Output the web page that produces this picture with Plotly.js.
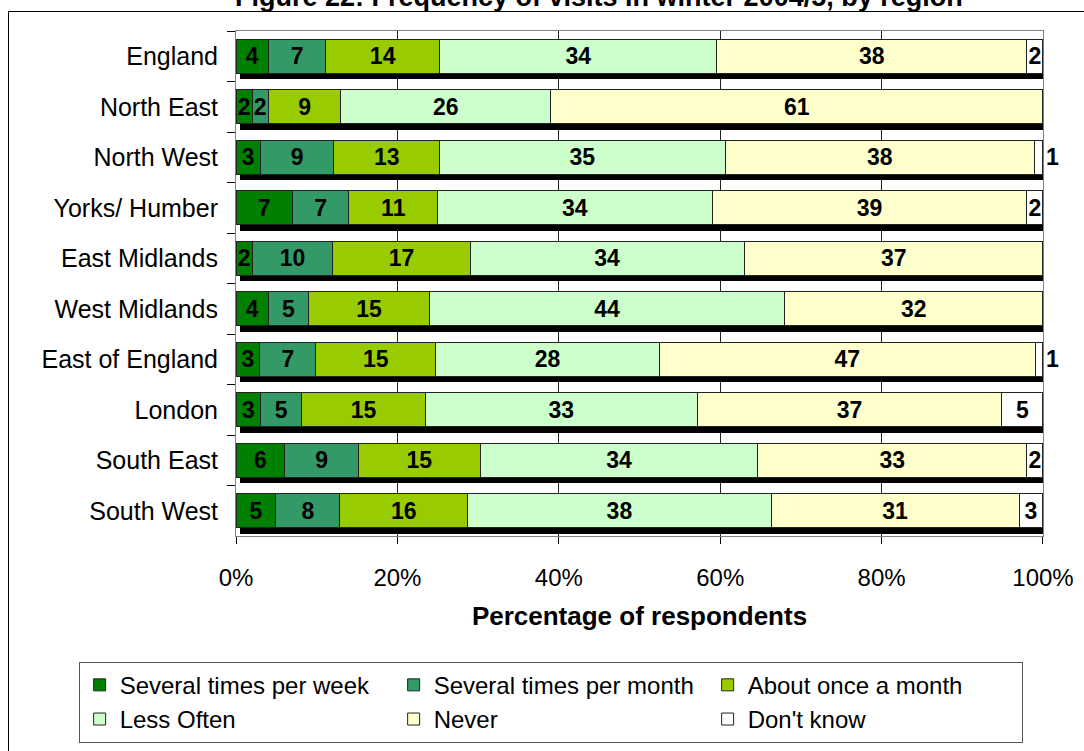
<!DOCTYPE html>
<html>
<head>
<meta charset="utf-8">
<script src="https://cdn.plot.ly/plotly-3.0.1.min.js"></script>
<style>
  html, body { margin: 0; padding: 0; overflow: hidden; background: #fff; }
  #chart { width: 1084px; height: 751px; position: relative; }
  #frame { position: absolute; left: 8px; top: 11px; width: 1120px; height: 800px;
           border: 1.5px solid #000; pointer-events: none; box-sizing: border-box; }
</style>
</head>
<body>
<div id="chart"></div>
<div id="frame"></div>
<script>
// ---- data ----
const regions = ["England", "North East", "North West", "Yorks/ Humber", "East Midlands",
                 "West Midlands", "East of England", "London", "South East", "South West"];
const severalPerWeek  = [4, 2, 3, 7, 2, 4, 3, 3, 6, 5];
const severalPerMonth = [7, 2, 9, 7, 10, 5, 7, 5, 9, 8];
const onceAMonth      = [14, 9, 13, 11, 17, 15, 15, 15, 15, 16];
const lessOften       = [34, 26, 35, 34, 34, 44, 28, 33, 34, 38];
const never           = [38, 61, 38, 39, 37, 32, 47, 37, 33, 31];
const dontKnow        = [2, 0, 1, 2, 0, 0, 1, 5, 2, 3];
const seriesNames  = ["Several times per week", "Several times per month", "About once a month",
                      "Less Often", "Never", "Don't know"];
const seriesColors = ["#008000", "#339966", "#99CC00", "#CCFFCC", "#FFFFCC", "#FFFFFF"];
const xTickVals  = [0, 20, 40, 60, 80, 100];
const xTickTexts = ["0%", "20%", "40%", "60%", "80%", "100%"];
const titleText = "Figure 22: Frequency of visits in winter 2004/5, by region";

const FONT = "Liberation Sans, Arial, sans-serif";
const allSeries = [severalPerWeek, severalPerMonth, onceAMonth, lessOften, never, dontKnow];
const totals = regions.map((_, i) => allSeries.reduce((s, arr) => s + arr[i], 0));
const labelFont = { family: FONT, size: 23, color: "#000", weight: "bold" };
const XMAX = 100.001; // tiny headroom so rounding in percent-normalisation never hides a bar

// 3D-style shadow drawn on the (hidden) base axes, slightly offset
const traces = [{
  type: "bar", orientation: "h", y: regions, x: totals,
  xaxis: "x", yaxis: "y",
  marker: { color: "#000", line: { width: 0 } },
  showlegend: false, hoverinfo: "skip"
}];

allSeries.forEach((vals, k) => {
  traces.push({
    type: "bar", orientation: "h", name: seriesNames[k],
    y: regions, x: vals, xaxis: "x2", yaxis: "y2",
    text: vals.map(v => v > 0 ? String(v) : ""),
    textposition: vals.map(v => v > 1 ? "inside" : "outside"),
    insidetextanchor: "middle",
    textangle: 0,
    cliponaxis: false,
    textfont: labelFont, insidetextfont: labelFont, outsidetextfont: labelFont,
    marker: { color: seriesColors[k], line: { color: "#222", width: 1 } },
    hoverinfo: "skip"
  });
});

const layout = {
  width: 1084, height: 751,
  margin: { l: 236, r: 41, t: 31, b: 215, autoexpand: false },
  paper_bgcolor: "#fff", plot_bgcolor: "#fff",
  font: { family: FONT, color: "#000" },
  barmode: "stack", barnorm: "percent", bargap: 0.33,
  uniformtext: { mode: "show", minsize: 23 },
  annotations: [{
    text: "<b>" + titleText + "</b>",
    xref: "paper", yref: "paper", x: 0.45, y: 1.068,
    xanchor: "center", yanchor: "middle", showarrow: false,
    font: { family: FONT, size: 27, color: "#000" }
  }],
  // hidden base axes carrying the shadow (shifted ~4px right, ~6px down)
  xaxis: { range: [-0.5, XMAX - 0.5], visible: false, fixedrange: true },
  yaxis: { type: "category", range: [9.38, -0.62], visible: false, fixedrange: true },
  // visible axes carrying the data
  xaxis2: {
    overlaying: "x", side: "bottom", range: [0, XMAX],
    tickvals: xTickVals, ticktext: xTickTexts,
    tickfont: { family: FONT, size: 24, color: "#000" },
    ticks: "outside", ticklen: 7, tickcolor: "#000", tickwidth: 1,
    ticklabelstandoff: 13,
    showgrid: true, gridcolor: "#222", gridwidth: 1,
    showline: true, mirror: true, linecolor: "#808080", linewidth: 1,
    zeroline: false,
    title: { text: "<b>Percentage of respondents</b>", standoff: 17,
             font: { family: FONT, size: 26, color: "#000" } }
  },
  yaxis2: {
    overlaying: "y", side: "left", type: "category",
    autorange: "reversed",
    tickfont: { family: FONT, size: 25, color: "#000" },
    ticks: "outside", tickson: "boundaries", ticklen: 8, tickcolor: "#000",
    ticklabelstandoff: 12,
    showgrid: false,
    showline: true, mirror: true, linecolor: "#808080", linewidth: 1
  },
  legend: {
    orientation: "h", xref: "paper", yref: "paper",
    x: -0.195, xanchor: "left", y: -0.249, yanchor: "top",
    traceorder: "normal",
    entrywidth: 269, entrywidthmode: "pixels",
    font: { family: FONT, size: 24, color: "#000" },
    bordercolor: "#555", borderwidth: 1, bgcolor: "#fff"
  },
  showlegend: true
};

Plotly.newPlot("chart", traces, layout, { displayModeBar: false, staticPlot: true });
</script>
</body>
</html>
